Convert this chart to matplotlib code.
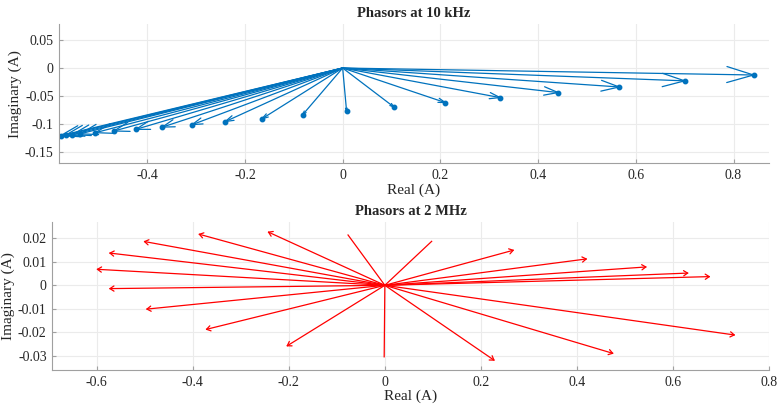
import numpy as np
import matplotlib
matplotlib.use("Agg")
import matplotlib.pyplot as plt
from matplotlib.ticker import FuncFormatter

plt.rcParams['font.family'] = ['Liberation Serif', 'DejaVu Serif']
plt.rcParams['axes.unicode_minus'] = False

# phasor tips at 10 kHz
re_10k = [-0.577, -0.567, -0.553, -0.537, -0.506, -0.468, -0.423, -0.369, -0.308, -0.240,
          -0.165, -0.082, 0.008, 0.105, 0.210, 0.322, 0.441, 0.566, 0.700, 0.841]
im_10k = [-0.1213, -0.1205, -0.1195, -0.118, -0.116, -0.113, -0.110, -0.106, -0.1016, -0.096,
          -0.091, -0.084, -0.077, -0.070, -0.062, -0.053, -0.044, -0.034, -0.023, -0.0125]

# phasor tips at 2 MHz
re_2m = [-0.242, -0.386, -0.500, -0.572, -0.598, -0.572, -0.495, -0.371, -0.203, -0.0014,
         -0.0766, 0.0974, 0.267, 0.419, 0.543, 0.630, 0.675, 0.727, 0.474, 0.227]
im_2m = [0.0226, 0.0217, 0.0186, 0.0137, 0.0068, -0.0014, -0.0101, -0.0187, -0.0257, -0.0304,
         0.0214, 0.0187, 0.0149, 0.0112, 0.0078, 0.0052, 0.0037, -0.0211, -0.0289, -0.0318]

blue = '#0072BD'
red = '#FF0000'
fmt = FuncFormatter(lambda v, p: '%g' % round(v, 4))


def style(ax):
    for s in ['top', 'right']:
        ax.spines[s].set_visible(False)
    for s in ['left', 'bottom']:
        ax.spines[s].set_color('#a0a0a0')
        ax.spines[s].set_linewidth(0.8)
    ax.grid(True, color='#ebebeb', linewidth=0.8)
    ax.set_axisbelow(True)
    ax.tick_params(direction='in', length=3, color='#a0a0a0', labelsize=10,
                   labelcolor='#262626', pad=4)
    ax.xaxis.set_major_formatter(fmt)
    ax.yaxis.set_major_formatter(fmt)
    ax.set_xlabel('Real (A)', fontsize=11, color='#262626', labelpad=1)
    ax.set_ylabel('Imaginary (A)', fontsize=11, color='#262626', labelpad=2)


def heads(ax, xs, ys, color, lw, rel=None, fixed=None, half=0.3, minx=0.0):
    tr = ax.transData
    inv = tr.inverted()
    o = tr.transform((0, 0))
    for x, y in zip(xs, ys):
        if abs(x) < minx:
            continue
        t = tr.transform((x, y))
        d = t - o
        L = np.hypot(*d)
        u = d / L
        n = np.array([-u[1], u[0]])
        hl = rel * L if rel is not None else fixed
        p1 = t - u * hl + n * hl * half
        p2 = t - u * hl - n * hl * half
        pts = inv.transform(np.array([p1, t, p2]))
        ax.plot(pts[:, 0], pts[:, 1], color=color, lw=lw, solid_capstyle='round')


fig = plt.figure(figsize=(7.77, 4.09), dpi=100)
ax1 = fig.add_axes([0.0763, 0.6007, 0.913, 0.3406])
ax2 = fig.add_axes([0.0673, 0.0954, 0.9228, 0.3611])

# top
for x, y in zip(re_10k, im_10k):
    ax1.plot([0, x], [0, y], color=blue, lw=0.9)
ax1.plot(re_10k, im_10k, 'o', color=blue, ms=3.2, ls='none')
ax1.set_xlim(-0.58, 0.872)
ax1.set_ylim(-0.171, 0.079)
ax1.set_xticks([-0.4, -0.2, 0, 0.2, 0.4, 0.6, 0.8])
ax1.set_yticks([-0.15, -0.1, -0.05, 0, 0.05])
style(ax1)
ax1.set_title('Phasors at 10 kHz', fontsize=10.5, fontweight='bold', color='#262626', pad=5)

# bottom
for x, y in zip(re_2m, im_2m):
    ax2.plot([0, x], [0, y], color=red, lw=0.9)
ax2.set_xlim(-0.692, 0.8)
ax2.set_ylim(-0.036, 0.0268)
ax2.set_xticks([-0.6, -0.4, -0.2, 0, 0.2, 0.4, 0.6, 0.8])
ax2.set_yticks([-0.03, -0.02, -0.01, 0, 0.01, 0.02])
style(ax2)
ax2.set_title('Phasors at 2 MHz', fontsize=10.5, fontweight='bold', color='#262626', pad=5)

fig.canvas.draw()
heads(ax1, re_10k, im_10k, blue, 0.9, rel=0.065)
heads(ax2, re_2m, im_2m, red, 0.9, fixed=4.0, half=0.65, minx=0.15)

fig.savefig('out.png', dpi=100)
